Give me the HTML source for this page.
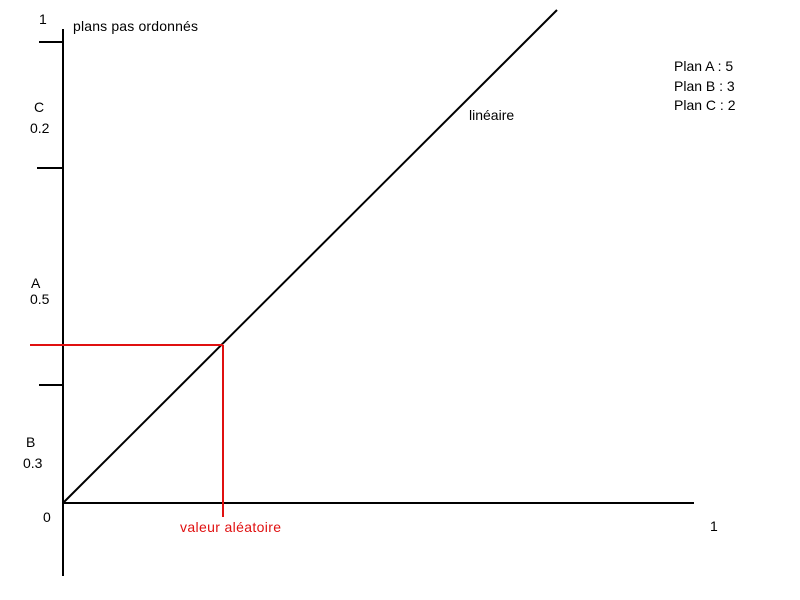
<!DOCTYPE html>
<html><head><meta charset="utf-8"><style>
html,body{margin:0;padding:0;background:#fff;}
svg{display:block;}
text{font-family:"Liberation Sans",sans-serif;font-size:14px;fill:#000;}
</style></head><body>
<svg width="800" height="600" xmlns="http://www.w3.org/2000/svg">
<g stroke="#000" stroke-width="2" fill="none">
<line x1="63" y1="29" x2="63" y2="576"/>
<line x1="63" y1="503" x2="694" y2="503"/>
<line x1="39" y1="42" x2="63" y2="42"/>
<line x1="37" y1="168" x2="63" y2="168"/>
<line x1="39" y1="385" x2="63" y2="385"/>
<line x1="63" y1="503" x2="557" y2="10"/>
</g>
<g stroke="#e01010" stroke-width="2" fill="none">
<line x1="30" y1="345" x2="223" y2="345"/>
<line x1="223" y1="345" x2="223" y2="517"/>
</g>
<text x="39" y="24">1</text>
<text x="73" y="31" textLength="125">plans pas ordonnés</text>
<text x="34" y="112">C</text>
<text x="30" y="133">0.2</text>
<text x="31" y="288">A</text>
<text x="30" y="304">0.5</text>
<text x="26" y="447">B</text>
<text x="23" y="468">0.3</text>
<text x="43" y="522">0</text>
<text x="710" y="531">1</text>
<text x="180" y="532" textLength="101" style="fill:#e01010">valeur aléatoire</text>
<text x="469" y="120">linéaire</text>
<text x="674" y="71">Plan A : 5</text>
<text x="674" y="91">Plan B : 3</text>
<text x="674" y="110">Plan C : 2</text>
</svg>
</body></html>
